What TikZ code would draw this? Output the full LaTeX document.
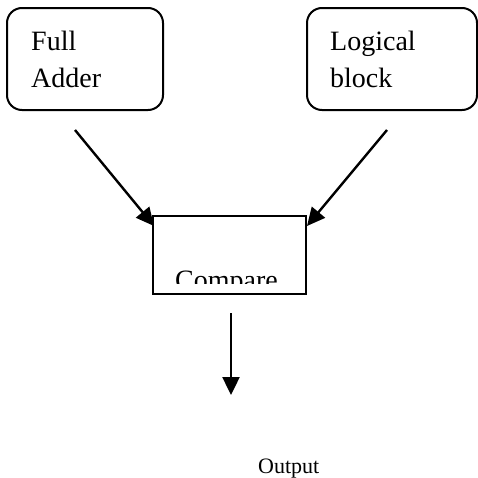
\documentclass[tikz,border=0pt]{standalone}
\usepackage{fontspec}
\setmainfont{Liberation Serif}
\usetikzlibrary{arrows.meta}
\begin{document}
\begin{tikzpicture}[x=1pt,y=-1pt,
  rbox/.style={draw,line width=2pt,rounded corners=15pt,inner sep=0pt},
  sbox/.style={draw,line width=2pt,inner sep=0pt},
  lbl/.style={inner sep=0pt,font=\fontsize{28}{37}\selectfont,align=left},
  arr/.style={line width=2.4pt,-{Triangle[length=18pt,width=17pt]}}]
\useasboundingbox (0,0) rectangle (478,477);
\node[rbox,minimum width=156pt,minimum height=102pt] (fa) at (85,59) {};
\node[rbox,minimum width=170pt,minimum height=102pt] (lb) at (392,59) {};
\node[sbox,minimum width=153pt,minimum height=78pt] (cmp) at (229.5,255) {};
\node[lbl,anchor=base west] (fat) at (31,87) {Full\\Adder};
\node[lbl,anchor=base west] (lbt) at (330,87) {Logical\\block};
\begin{scope}
\clip (153,216) rectangle (306,283);
\node[lbl,anchor=base west] (cmpt) at (175,289) {Compare};
\end{scope}
\node[inner sep=0pt,anchor=base west,font=\fontsize{22}{26}\selectfont] (out) at (258,473) {Output};
\coordinate (a1) at (75,130);
\coordinate (a1e) at (154,226);
\coordinate (a2) at (387,130);
\coordinate (a2e) at (307,226);
\coordinate (a3) at (231,313);
\coordinate (a3e) at (231,395);
\draw[arr] (a1) -- (a1e);
\draw[arr] (a2) -- (a2e);
\draw[arr] (a3) -- (a3e);
\end{tikzpicture}
\end{document}
